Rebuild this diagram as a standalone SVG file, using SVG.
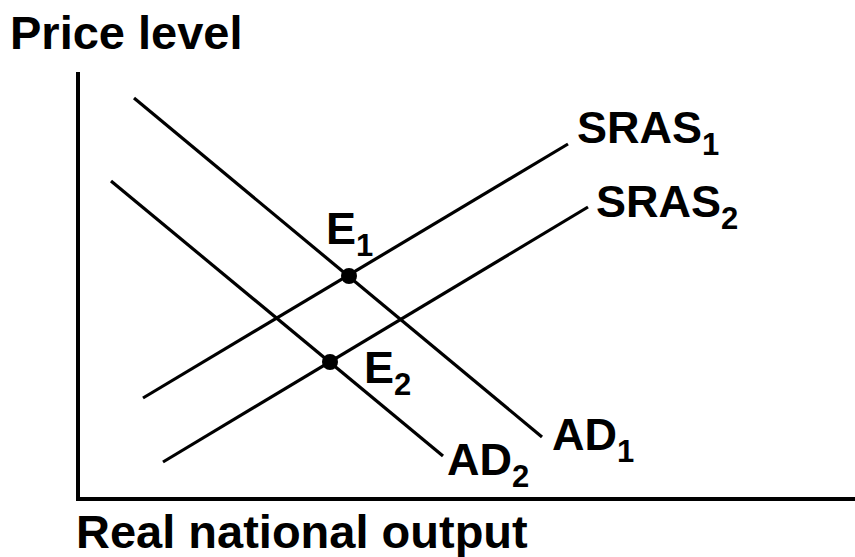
<svg xmlns="http://www.w3.org/2000/svg" width="855" height="557" viewBox="0 0 855 557">
<style>
text{font-family:"Liberation Sans",Arial,sans-serif;font-weight:bold;fill:#000}
.lbl{font-size:45px}
.sub{font-size:31px}
.ax{font-size:47px}
.crv{stroke:#000;stroke-width:3.2;fill:none}
.axis{stroke:#000;stroke-width:4;fill:none}
</style>
<rect width="855" height="557" fill="#fff"/>
<g id="axes">
<polyline class="axis" points="78,72 78,499 855,499"/>
<text class="ax" x="10" y="49">Price level</text>
<text class="ax" x="76" y="548">Real national output</text>
</g>
<g id="connectors">
<line id="sras1" class="crv" x1="143" y1="398" x2="568" y2="144"/>
<line id="sras2" class="crv" x1="163" y1="462" x2="588" y2="207"/>
<line id="ad1" class="crv" x1="134" y1="98" x2="542" y2="437"/>
<line id="ad2" class="crv" x1="111" y1="181" x2="443" y2="456"/>
</g>
<g id="E1"><circle cx="349" cy="276" r="8"/><text class="lbl" x="326" y="244">E<tspan class="sub" dy="12">1</tspan></text></g>
<g id="E2"><circle cx="330" cy="362" r="8"/><text class="lbl" x="364" y="383">E<tspan class="sub" dy="12">2</tspan></text></g>
<g id="SRAS1"><text class="lbl" x="577" y="143">SRAS<tspan class="sub" dy="12">1</tspan></text></g>
<g id="SRAS2"><text class="lbl" x="596" y="217">SRAS<tspan class="sub" dy="12">2</tspan></text></g>
<g id="AD1"><text class="lbl" x="552" y="450">AD<tspan class="sub" dy="12">1</tspan></text></g>
<g id="AD2"><text class="lbl" x="447" y="475">AD<tspan class="sub" dy="12">2</tspan></text></g>
</svg>
